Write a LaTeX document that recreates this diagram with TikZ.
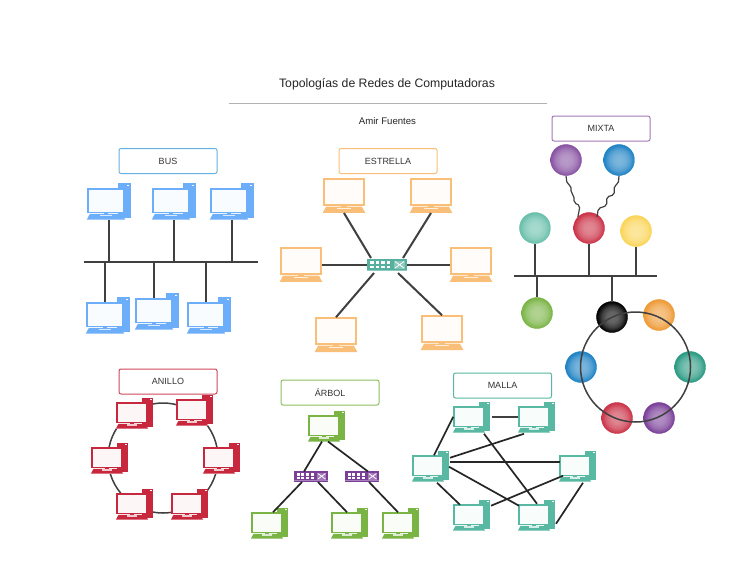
\documentclass[tikz,border=0pt]{standalone}
\usepackage{fontspec}
\setmainfont{Liberation Sans}
\definecolor{cblue}{HTML}{6CAEFA}
\definecolor{corange}{HTML}{F9BF78}
\definecolor{cgreen}{HTML}{7AB445}
\definecolor{cteal}{HTML}{58B8A2}
\definecolor{cred}{HTML}{C8283E}
\definecolor{cpurple}{HTML}{7A3F98}
\definecolor{cswitch}{HTML}{56B0A0}
\definecolor{wire}{HTML}{404040}
\definecolor{bblue}{HTML}{1F82C4}
\definecolor{byellow}{HTML}{FAD55A}
\definecolor{borange}{HTML}{EE9A35}
\definecolor{bteal}{HTML}{2A9A82}
\pgfdeclareradialshading[ballc]{myball}{\pgfpointorigin}{color(0bp)=(ballc!58!white); color(9bp)=(ballc!62!white); color(17bp)=(ballc!76!white); color(22bp)=(ballc!92!white); color(25bp)=(ballc); color(50bp)=(ballc)}
\tikzset{
  x=1pt,y=-1pt,
  titlebox/.style={draw=#1,rounded corners=2pt,line width=1pt,minimum width=98pt,minimum height=25pt,inner sep=0pt,font=\fontsize{9}{11}\selectfont,text=black!80},
  wirelink/.style={draw=wire,line width=2pt},
  meshlink/.style={draw=black!85,line width=1.7pt},
  busbar/.style={fill=wire,inner sep=0pt,minimum height=2.8pt},
  ballnode/.style={circle,inner sep=0pt,minimum size=31pt,/utils/exec={\colorlet{ballc}{#1}},shading=myball,draw=ballc,line width=.4pt},
  ringline/.style={circle,draw=wire,line width=1.5pt,inner sep=0pt,minimum size=110pt},
  monitor/.style={draw=#1,fill=#1!4!white,line width=1.5pt,inner sep=0pt},
  swbox/.style={fill=#1,inner sep=0pt},
}
% name, left, top of monitor, scale, colour, tower (1/0)
\newcommand\pcbox[6]{%
  \begin{scope}[shift={(#2,#3)},x=#4pt,y=-#4pt]
    \ifnum#6=1
      \fill[white] (-1,20) rectangle (31,25.5);
      \fill[#5] (25,-5) rectangle (36,24);
      \fill[white] (32.5,-3.6) rectangle (34.5,-2.8);
    \fi
    \fill[#5] (13,19) rectangle (17,22);
    \fill[#5] (1.5,20.8) -- (28.5,20.8) -- (31,25.5) -- (-1,25.5) -- cycle;
    \fill[white,opacity=.75] (10,21.4) rectangle (20,22.6);
    \node[monitor=#5,minimum width=#4*30pt,minimum height=#4*19.5pt] (#1) at (15,9.75) {};
    \coordinate (#1-k) at (15,25.5);
  \end{scope}}
% name, centre x, centre y, scale, colour
\newcommand\swbox[5]{%
  \node[swbox=#5,minimum width=#4*40pt,minimum height=#4*12pt] (#1) at (#2,#3) {};
  \begin{scope}[shift={(#2,#3)},x=#4pt,y=-#4pt]
    \foreach \dx in {-17,-11.5,-6,-0.5}{
      \foreach \dy in {-3.6,0.6}{
        \fill[white] (\dx,\dy) rectangle ++(3.6,2.6);
      }
    }
    \fill[white,opacity=.3] (7,-4.5) rectangle (18,4);
    \draw[white,line width=.8pt] (8,-3.5) -- (17,3) (8,3) -- (17,-3.5);
    \fill[white,opacity=.35] (-20,4.6) rectangle (20,5.2);
  \end{scope}}
\begin{document}
\begin{tikzpicture}
\useasboundingbox (0,0) rectangle (735,587);
\fill[white] (0,0) rectangle (735,587);

% Title
\node[font=\fontsize{12.25}{15}\selectfont,text=black!85,inner sep=0pt] (title) at (387,84.5) {Topologías de Redes de Computadoras};
\coordinate (ruleL) at (229,103);
\coordinate (ruleR) at (547,103);
\draw[black!30,line width=.9pt] (ruleL) -- (ruleR);
\node[font=\fontsize{9.6}{12}\selectfont,text=black!85,inner sep=0pt] (author) at (387.5,121) {Amir Fuentes};

% Labels
\node[titlebox=cblue!70!cteal] (lbus) at (168,161) {BUS};
\node[titlebox=corange] (lest) at (388,161) {ESTRELLA};
\node[titlebox=cpurple!70!white] (lmix) at (601,128.5) {MIXTA};
\node[titlebox=cred!85!white] (lani) at (168,381.5) {ANILLO};
\node[titlebox=cgreen!85!white] (larb) at (330,392.5) {ÁRBOL};
\node[titlebox=cteal] (lmal) at (502.5,385.5) {MALLA};

% BUS
\node[busbar,minimum width=174pt] (bus) at (171,262) {};
\pcbox{b1}{88}{189}{1.2}{cblue}{1}
\pcbox{b2}{153}{189}{1.2}{cblue}{1}
\pcbox{b3}{211}{189}{1.2}{cblue}{1}
\pcbox{b4}{87}{303}{1.2}{cblue}{1}
\pcbox{b5}{136}{299}{1.2}{cblue}{1}
\pcbox{b6}{188}{303}{1.2}{cblue}{1}
\foreach \n in {b1,b2,b3}{
  \draw[wirelink] ([xshift=3pt]\n-k) -- ([xshift=3pt]\n-k |- bus.center);
}
\foreach \n in {b4,b5,b6}{
  \draw[wirelink] (\n.north) -- (\n.north |- bus.center);
}

% ESTRELLA
\swbox{sw}{387}{265}{1}{cswitch}
\pcbox{e1}{324}{179}{1.333}{corange}{0}
\pcbox{e2}{411}{179}{1.333}{corange}{0}
\pcbox{e3}{281}{248}{1.333}{corange}{0}
\pcbox{e4}{451}{248}{1.333}{corange}{0}
\pcbox{e5}{316}{318}{1.333}{corange}{0}
\pcbox{e6}{422}{316}{1.333}{corange}{0}
\draw[wirelink] (e1-k) -- ([shift={(-16,-7)}]sw.center);
\draw[wirelink] (e2-k) -- ([shift={(16,-7)}]sw.center);
\draw[wirelink] (sw.west) -- (sw.west -| e3.east);
\draw[wirelink] (sw.east) -- (sw.east -| e4.west);
\draw[wirelink] ([shift={(-13,8)}]sw.center) -- (e5.north);
\draw[wirelink] ([shift={(11,8)}]sw.center) -- (e6.north);

% ANILLO
\node[ringline] (ringa) at (163,458) {};
\pcbox{a1}{117}{403}{1}{cred}{1}
\pcbox{a2}{177}{400}{1}{cred}{1}
\pcbox{a3}{92}{448}{1}{cred}{1}
\pcbox{a4}{204}{448}{1}{cred}{1}
\pcbox{a5}{117}{494}{1}{cred}{1}
\pcbox{a6}{172}{494}{1}{cred}{1}

% ARBOL
\pcbox{t0}{309}{416}{1}{cgreen}{1}
\pcbox{t1}{252}{513}{1}{cgreen}{1}
\pcbox{t2}{332}{513}{1}{cgreen}{1}
\pcbox{t3}{383}{513}{1}{cgreen}{1}
\swbox{s1}{311}{476.5}{.85}{cpurple}
\swbox{s2}{362}{476.5}{.85}{cpurple}
\draw[meshlink] ([xshift=-2pt]t0-k) -- ([shift={(-7,-5)}]s1.center);
\draw[meshlink] ([xshift=4pt]t0-k) -- ([shift={(6,-5)}]s2.center);
\draw[meshlink] ([shift={(-9,5.5)}]s1.center) -- ([xshift=6pt]t1.north);
\draw[meshlink] ([shift={(7,5.5)}]s1.center) -- (t2.north);
\draw[meshlink] ([shift={(7,5.5)}]s2.center) -- (t3.north);

% MALLA
\pcbox{m1}{454}{407}{1}{cteal}{1}
\pcbox{m2}{519}{407}{1}{cteal}{1}
\pcbox{m3}{413}{456}{1}{cteal}{1}
\pcbox{m4}{560}{456}{1}{cteal}{1}
\pcbox{m5}{454}{505}{1}{cteal}{1}
\pcbox{m6}{519}{505}{1}{cteal}{1}
\draw[wirelink] ([xshift=7pt]m1.east) -- (m2.west);
\draw[meshlink] (m1.west) -- ([xshift=6pt]m3.north);
\draw[meshlink] ([shift={(22,-8)}]m3.center) -- ([shift={(-10,17)}]m2.center);
\draw[meshlink] ([shift={(22,-4)}]m3.center) -- ([shift={(-15,-4)}]m4.center);
\draw[meshlink] ([shift={(21,1)}]m3.center) -- ([shift={(-15,-9)}]m6.center);
\draw[meshlink] ([shift={(9,17)}]m3.center) -- ([shift={(-9,-10)}]m5.center);
\draw[meshlink] ([shift={(15,17)}]m1.center) -- ([shift={(3,-11)}]m6.center);
\draw[meshlink] ([shift={(22,-9)}]m5.center) -- ([shift={(-12,10)}]m4.center);
\draw[meshlink] ([shift={(22,9)}]m6.center) -- ([shift={(8,17)}]m4.center);

% MIXTA
\node[busbar,minimum width=143pt] (mbus) at (585.5,276) {};
\node[ballnode=cpurple!90!white] (x1) at (566,160) {};
\node[ballnode=bblue] (x2) at (619,160) {};
\node[ballnode=cteal!90!white] (x3) at (535,228) {};
\node[ballnode=cred!95!white] (x4) at (589,228) {};
\node[ballnode=byellow] (x5) at (636,231) {};
\node[ballnode=cgreen] (x6) at (537,313) {};
\node[ballnode=black] (x7) at (612,317) {};
\node[ballnode=borange] (r1) at (659,315) {};
\node[ballnode=bblue] (r2) at (581,367) {};
\node[ballnode=bteal] (r3) at (690,367) {};
\node[ballnode=cred!95!white] (r4) at (617,418) {};
\node[ballnode=cpurple] (r5) at (659,418) {};
\node[ringline] (ringm) at (635.5,367) {};
\draw[wirelink] (x3.south) -- (x3.south |- mbus.center);
\draw[wirelink] (x4.south) -- (x4.south |- mbus.center);
\draw[wirelink] (x5.south) -- (x5.south |- mbus.center);
\draw[line width=2.4pt,draw=wire] (x6.north) -- (x6.north |- mbus.center);
\draw[line width=2.4pt,draw=wire] (x7.north) -- (x7.north |- mbus.center);
\draw[wire,line width=1.2pt,rounded corners=2pt] (x1.south) -- ++(1,8) -- ++(4,2) -- ++(0,7) -- ++(3,3) -- ++(0,7) -- ++(6,3) -- (x4.north west);
\draw[wire,line width=1.2pt,rounded corners=2pt] (x2.south) -- ++(-.7,8) -- ++(-4,2) -- ++(0,9) -- ++(-7.6,2.3) -- ++(0,8.7) -- ++(-8.4,2.7) -- ([xshift=-3pt]x4.north east);
\end{tikzpicture}
\end{document}
